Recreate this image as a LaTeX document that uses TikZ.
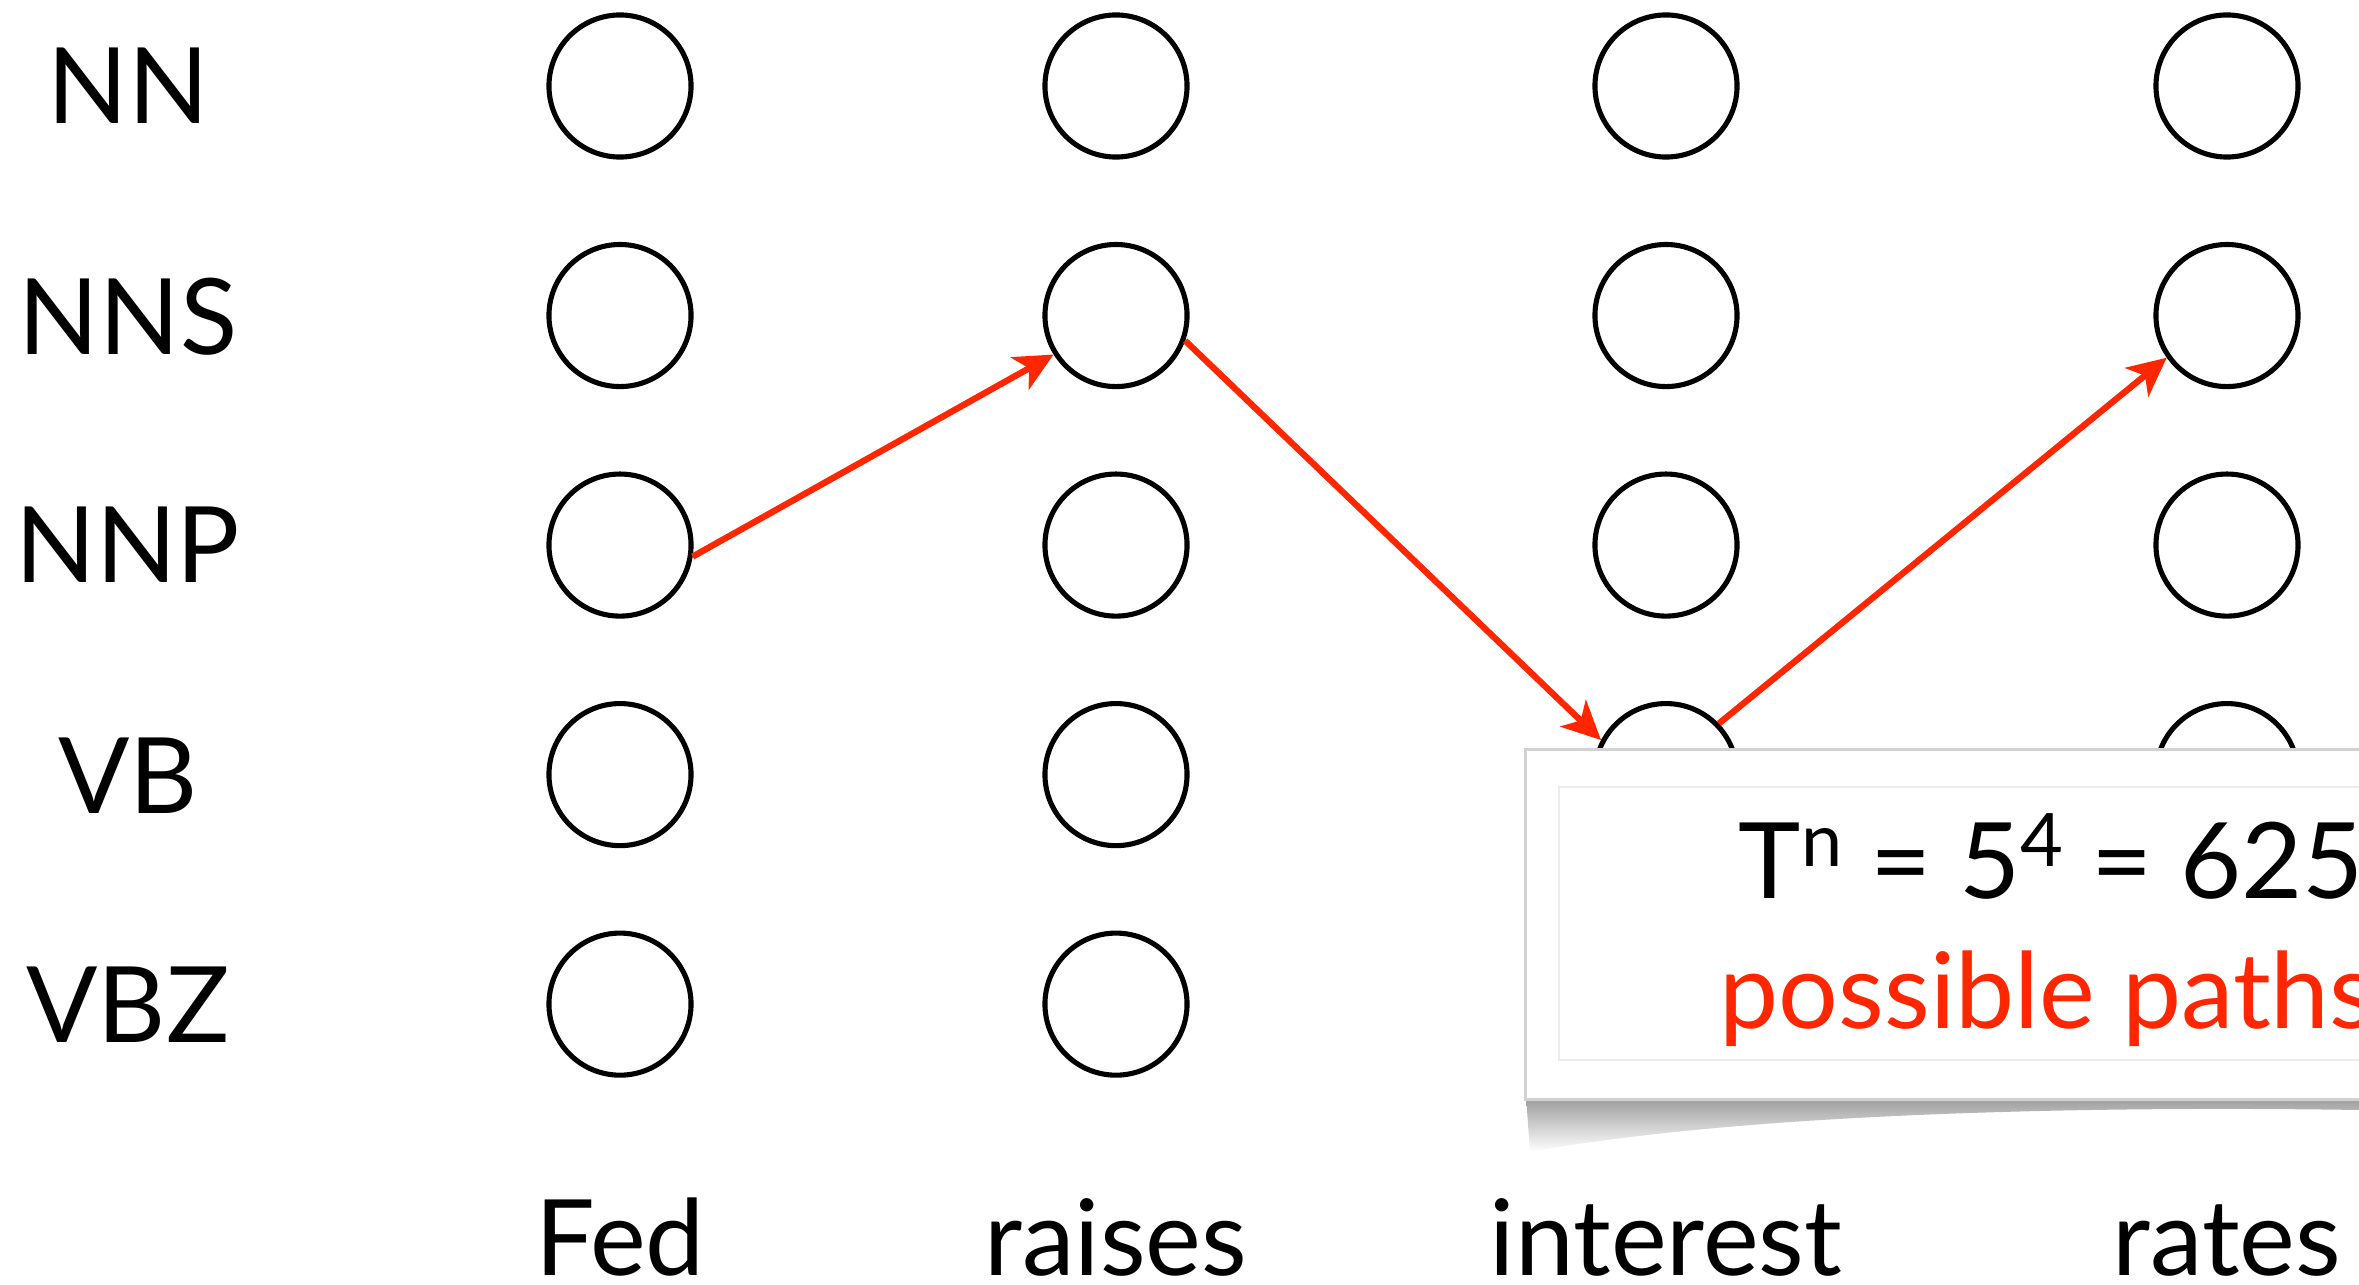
\documentclass[tikz,border=0pt]{standalone}
\usepackage{fontspec}
\setmainfont{Lato}
\usetikzlibrary{arrows.meta,positioning}
\definecolor{pathred}{RGB}{255,38,0}

\begin{document}
\begin{tikzpicture}[x=0.01cm,y=-0.01cm,node distance=2.294cm,
  tag/.style={circle,draw,line width=1.45pt,minimum size=1.42cm,inner sep=0pt},
  lab/.style={font=\fontsize{30}{36}\selectfont,anchor=base,inner sep=0pt},
  hop/.style={-{Stealth[length=11pt,width=10.5pt,inset=3pt]},draw=pathred,line width=1.8pt},
  callout/.style={draw=gray!35,line width=0.8pt,fill=white,anchor=north west,minimum width=9cm,minimum height=3.5cm}]
  \useasboundingbox (0,0) rectangle (2359,1285);
  \clip (0,0) rectangle (2359,1285);
  % tags on the left
  \node[lab] (tNN)  at (128,124)  {NN};
  \node[lab] (tNNS) at (128,354)  {NNS};
  \node[lab] (tNNP) at (128,583)  {NNP};
  \node[lab] (tVB)  at (128,813)  {VB};
  \node[lab] (tVBZ) at (128,1042) {VBZ};
  % Fed
  \node[tag] (fNN) at (620,86) {};
  \node[tag] (fNNS) [below of = fNN]  {};
  \node[tag] (fNNP) [below of = fNNS] {};
  \node[tag] (fVB)  [below of = fNNP] {};
  \node[tag] (fVBZ) [below of = fVB]  {};
  % raises
  \node[tag] (rNN) at (1116,86) {};
  \node[tag] (rNNS) [below of = rNN]  {};
  \node[tag] (rNNP) [below of = rNNS] {};
  \node[tag] (rVB)  [below of = rNNP] {};
  \node[tag] (rVBZ) [below of = rVB]  {};
  % interest
  \node[tag] (iNN) at (1666,86) {};
  \node[tag] (iNNS) [below of = iNN]  {};
  \node[tag] (iNNP) [below of = iNNS] {};
  \node[tag] (iVB)  [below of = iNNP] {};
  \node[tag] (iVBZ) [below of = iVB]  {};
  % rates
  \node[tag] (aNN) at (2227,86) {};
  \node[tag] (aNNS) [below of = aNN]  {};
  \node[tag] (aNNP) [below of = aNNS] {};
  \node[tag] (aVB)  [below of = aNNP] {};
  \node[tag] (aVBZ) [below of = aVB]  {};
  % words
  \node[lab] (wFed) at (620,1275)  {Fed};
  \node[lab] (wRaises) at (1116,1275) {raises};
  \node[lab] (wInterest) at (1666,1275) {interest};
  \node[lab] (wRates) at (2227,1275) {rates};
%
  \draw[hop] (fNNP.-9) -- (rNNS.212);
  \draw[hop] (rNNS.-20) -- (iVB.152);
  \draw[hop] (iVB.44) -- (aNNS.215);
%
  \shade[top color=gray!80,bottom color=white] (1526,1096) -- (1530,1152)
    .. controls (1750,1112) and (2100,1106) .. (2359,1110) -- (2359,1096) -- cycle;
  \node[callout] (box) at (1524,748) {};
  \draw[gray!15,line width=0.8pt] (2400,787) -| (1559,1060) -- (2400,1060);
  \node[lab,anchor=base west] (count) at (1738,898) {T\textsuperscript{n} = 5\textsuperscript{4} = 625};
  \node[lab,anchor=base west,text=pathred] (paths) at (1719,1028) {possible paths!};
\end{tikzpicture}
\end{document}
